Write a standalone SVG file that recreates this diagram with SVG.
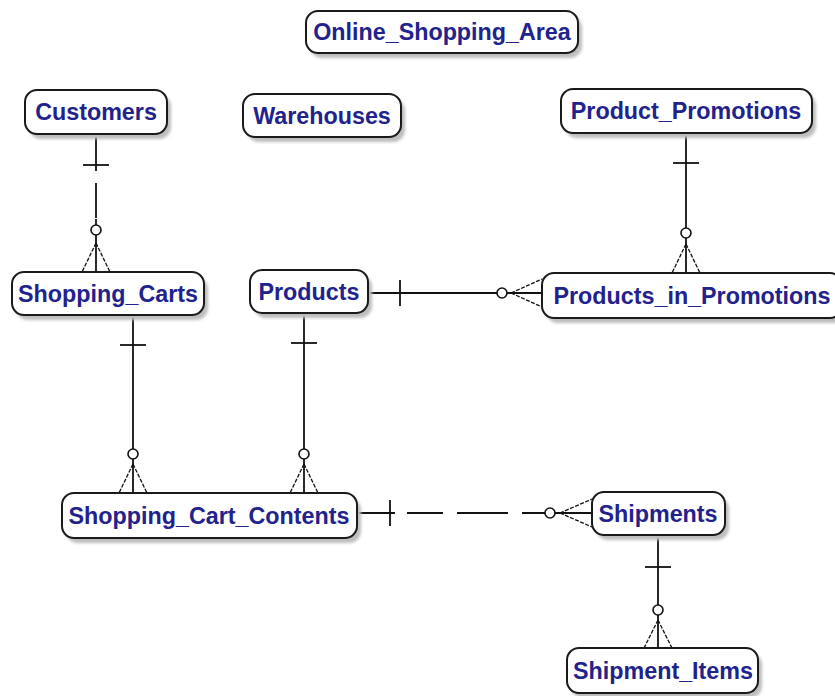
<svg xmlns="http://www.w3.org/2000/svg" width="835" height="696" viewBox="0 0 835 696">
<style>
.box{fill:#ffffff;stroke:#1a1a1a;stroke-width:2}
.sh{fill:#bdbdbd;filter:url(#blur)}
.lbl{font-family:"Liberation Sans",Arial,sans-serif;font-weight:bold;font-size:23.3px;fill:#22228c;text-anchor:middle}
.ln{stroke:#111;stroke-width:1.8;fill:none}
.cf{stroke:#111;stroke-width:1.3;fill:none;stroke-dasharray:4 1.5}
.oc{stroke:#111;stroke-width:1.6;fill:#fff}
</style>
<defs>
<filter id="blur" x="-10%" y="-30%" width="120%" height="160%"><feGaussianBlur stdDeviation="1.5"/></filter>
</defs>
<rect width="835" height="696" fill="#ffffff"/>
<g id="connectors">
<!-- Customers -> Shopping_Carts (dashed) -->
<path class="ln" d="M96 134V171M96 183V218M96 219V225"/>
<path class="ln" d="M83 165H109"/>
<ellipse class="oc" cx="96" cy="230" rx="5" ry="5"/>
<path class="ln" d="M96 235V272"/>
<path class="cf" d="M96 243L82 272M96 243L110 272"/>
<!-- Product_Promotions -> Products_in_Promotions -->
<path class="ln" d="M686 133V228"/>
<path class="ln" d="M673 163H699"/>
<ellipse class="oc" cx="686" cy="233" rx="5" ry="5"/>
<path class="ln" d="M686 238V273"/>
<path class="cf" d="M686 244L672 273M686 244L700 273"/>
<!-- Shopping_Carts -> Shopping_Cart_Contents -->
<path class="ln" d="M133 315V449"/>
<path class="ln" d="M120 345H146"/>
<ellipse class="oc" cx="133" cy="454" rx="5" ry="5"/>
<path class="ln" d="M133 459V493"/>
<path class="cf" d="M133 464L119 493M133 464L147 493"/>
<!-- Products -> Shopping_Cart_Contents -->
<path class="ln" d="M304 313V449"/>
<path class="ln" d="M291 343H317"/>
<ellipse class="oc" cx="304" cy="454" rx="5" ry="5"/>
<path class="ln" d="M304 459V493"/>
<path class="cf" d="M304 464L290 493M304 464L318 493"/>
<!-- Products -> Products_in_Promotions -->
<path class="ln" d="M368 293H497"/>
<path class="ln" d="M400 280V306"/>
<ellipse class="oc" cx="502" cy="293" rx="5" ry="5"/>
<path class="ln" d="M507 293H542"/>
<path class="cf" d="M511 293L542 279M511 293L542 307"/>
<!-- Shopping_Cart_Contents -> Shipments (dashed) -->
<path class="ln" d="M357 513H395M407 513H443M457 513H508M522 513H545"/>
<path class="ln" d="M390 500V526"/>
<ellipse class="oc" cx="550" cy="513" rx="5" ry="5"/>
<path class="ln" d="M555 513H592"/>
<path class="cf" d="M560 513L592 499M560 513L592 527"/>
<!-- Shipments -> Shipment_Items -->
<path class="ln" d="M658 535V605"/>
<path class="ln" d="M645 567H671"/>
<ellipse class="oc" cx="658" cy="610" rx="5" ry="5"/>
<path class="ln" d="M658 615V648"/>
<path class="cf" d="M658 620L644 648M658 620L672 648"/>
</g>
<g id="Online_Shopping_Area">
<rect class="sh" x="310" y="16" width="272" height="42" rx="12"/>
<rect class="box" x="306" y="11" width="272" height="42" rx="12"/>
<text class="lbl" x="442" y="40">Online_Shopping_Area</text>
</g>
<g id="Customers">
<rect class="sh" x="29" y="95" width="142" height="44" rx="12"/>
<rect class="box" x="25" y="90" width="142" height="44" rx="12"/>
<text class="lbl" x="96" y="120">Customers</text>
</g>
<g id="Warehouses">
<rect class="sh" x="247" y="99" width="158" height="43" rx="12"/>
<rect class="box" x="243" y="94" width="158" height="43" rx="12"/>
<text class="lbl" x="322" y="124">Warehouses</text>
</g>
<g id="Product_Promotions">
<rect class="sh" x="565" y="94" width="251" height="44" rx="12"/>
<rect class="box" x="561" y="89" width="251" height="44" rx="12"/>
<text class="lbl" x="686" y="119">Product_Promotions</text>
</g>
<g id="Shopping_Carts">
<rect class="sh" x="16" y="277" width="192" height="43" rx="12"/>
<rect class="box" x="12" y="272" width="192" height="43" rx="12"/>
<text class="lbl" x="108" y="302">Shopping_Carts</text>
</g>
<g id="Products">
<rect class="sh" x="254" y="275" width="118" height="43" rx="12"/>
<rect class="box" x="250" y="270" width="118" height="43" rx="12"/>
<text class="lbl" x="309" y="300">Products</text>
</g>
<g id="Products_in_Promotions">
<rect class="sh" x="546" y="278" width="300" height="45" rx="12"/>
<rect class="box" x="542" y="273" width="300" height="45" rx="12"/>
<text class="lbl" x="692" y="304">Products_in_Promotions</text>
</g>
<g id="Shopping_Cart_Contents">
<rect class="sh" x="66" y="498" width="295" height="45" rx="12"/>
<rect class="box" x="62" y="493" width="295" height="45" rx="12"/>
<text class="lbl" x="209" y="524">Shopping_Cart_Contents</text>
</g>
<g id="Shipments">
<rect class="sh" x="596" y="497" width="133" height="43" rx="12"/>
<rect class="box" x="592" y="492" width="133" height="43" rx="12"/>
<text class="lbl" x="658" y="522">Shipments</text>
</g>
<g id="Shipment_Items">
<rect class="sh" x="571" y="653" width="191" height="45" rx="12"/>
<rect class="box" x="567" y="648" width="191" height="45" rx="12"/>
<text class="lbl" x="663" y="679">Shipment_Items</text>
</g>
</svg>
